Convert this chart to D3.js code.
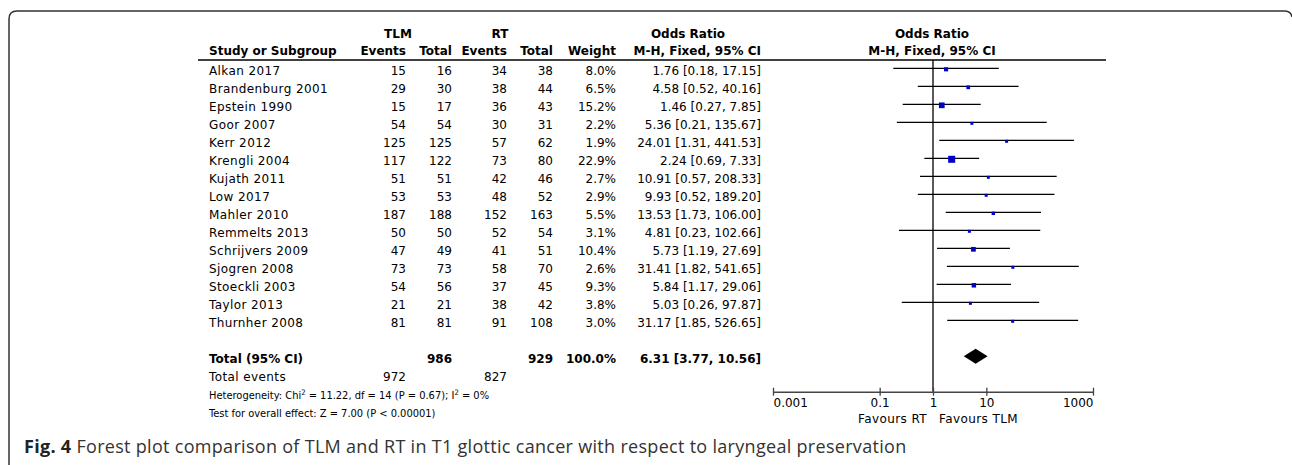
<!DOCTYPE html>
<html>
<head>
<meta charset="utf-8">
<script src="https://cdn.jsdelivr.net/npm/d3@7"></script>
<style>
	body { margin: 0; background: #fff; }
	svg { display: block; font-family: "DejaVu Sans", sans-serif; font-size: 12px; }
	.bold { font-weight: bold; }
	.name { letter-spacing: 0.4px; }
	.narrow { font-family: "Liberation Sans Narrow", "DejaVu Sans Condensed", sans-serif; font-stretch: condensed; font-size: 11px; }
</style>
</head>
<body>
<script>
const studies = [
	"Alkan 2017", "Brandenburg 2001", "Epstein 1990", "Goor 2007", "Kerr 2012",
	"Krengli 2004", "Kujath 2011", "Low 2017", "Mahler 2010", "Remmelts 2013",
	"Schrijvers 2009", "Sjogren 2008", "Stoeckli 2003", "Taylor 2013", "Thurnher 2008"
];
const tlmEvents = [15, 29, 15, 54, 125, 117, 51, 53, 187, 50, 47, 73, 54, 21, 81];
const tlmTotal = [16, 30, 17, 54, 125, 122, 51, 53, 188, 50, 49, 73, 56, 21, 81];
const rtEvents = [34, 38, 36, 30, 57, 73, 42, 48, 152, 52, 41, 58, 37, 38, 91];
const rtTotal = [38, 44, 43, 31, 62, 80, 46, 52, 163, 54, 51, 70, 45, 42, 108];
const weights = [8.0, 6.5, 15.2, 2.2, 1.9, 22.9, 2.7, 2.9, 5.5, 3.1, 10.4, 2.6, 9.3, 3.8, 3.0];
const oddsRatio = [1.76, 4.58, 1.46, 5.36, 24.01, 2.24, 10.91, 9.93, 13.53, 4.81, 5.73, 31.41, 5.84, 5.03, 31.17];
const ciLow = [0.18, 0.52, 0.27, 0.21, 1.31, 0.69, 0.57, 0.52, 1.73, 0.23, 1.19, 1.82, 1.17, 0.26, 1.85];
const ciHigh = [17.15, 40.16, 7.85, 135.67, 441.53, 7.33, 208.33, 189.20, 106.00, 102.66, 27.69, 541.65, 29.06, 97.87, 526.65];

const totalTlm = 986;
const totalRt = 929;
const totalWeight = 100.0;
const totalOr = [6.31, 3.77, 10.56];
const totalEvents = [972, 827];

const axisTicks = [0.001, 0.1, 1, 10, 1000];
const favours = ["Favours RT", "Favours TLM"];

const W = 1292, H = 465;
const fmt2 = d3.format(".2f");
const fmt1 = d3.format(".1f");
const orLabel = (o, l, h) => `${fmt2(o)} [${fmt2(l)}, ${fmt2(h)}]`;

const svg = d3.select("body").append("svg")
	.attr("width", W)
	.attr("height", H);

// frame (rounded box, bottom and right run off the picture)
svg.append("path")
	.attr("d", "M9,470 L9,19 Q9,11 17,11 L1284,11 Q1291,11 1292,17")
	.attr("fill", "none")
	.attr("stroke", "#333")
	.attr("stroke-width", 1.5);

// row index -> line y; text sits a little lower
const row = d3.scaleLinear().domain([0, 1]).range([68.3, 86.3]);
const base = i => row(i) + 6.4;

const x = d3.scaleLog().domain([0.001, 1000]).range([773, 1093]);
const side = d3.scaleSqrt().domain([0, 22.9]).range([0, 7]);
const sq = w => Math.max(3, side(w));
const axisY = 391.7;

const col = {
	name: 209,
	tlmEv: 406,
	tlmTot: 452,
	rtEv: 507,
	rtTot: 553,
	weight: 616,
	or: 761
};

// headers
const head = svg.append("g").attr("class", "bold");
const headTxt = (tx, ty, anchor, s) =>
	head.append("text")
		.attr("x", tx)
		.attr("y", ty)
		.attr("text-anchor", anchor)
		.text(s);

headTxt(398, 37.7, "middle", "TLM");
headTxt(500, 37.7, "middle", "RT");
headTxt(688, 37.7, "middle", "Odds Ratio");
headTxt(932, 37.7, "middle", "Odds Ratio");
headTxt(col.name, 55, "start", "Study or Subgroup");
headTxt(col.tlmEv, 55, "end", "Events");
headTxt(col.tlmTot, 55, "end", "Total");
headTxt(col.rtEv, 55, "end", "Events");
headTxt(col.rtTot, 55, "end", "Total");
headTxt(col.weight, 55, "end", "Weight");
headTxt(col.or, 55, "end", "M-H, Fixed, 95% CI");
headTxt(932, 55, "middle", "M-H, Fixed, 95% CI");

svg.append("line")
	.attr("x1", 198)
	.attr("x2", 1106)
	.attr("y1", 60)
	.attr("y2", 60)
	.attr("stroke", "#000")
	.attr("stroke-width", 1.4);

// table rows
const rows = svg.selectAll(".row")
	.data(studies)
	.enter()
	.append("g")
	.attr("class", "row")
	.attr("transform", (d, i) => `translate(0, ${base(i)})`);

rows.append("text")
	.attr("class", "name")
	.attr("x", col.name)
	.text(d => d);

const cells = [
	[col.tlmEv, (d, i) => tlmEvents[i]],
	[col.tlmTot, (d, i) => tlmTotal[i]],
	[col.rtEv, (d, i) => rtEvents[i]],
	[col.rtTot, (d, i) => rtTotal[i]],
	[col.weight, (d, i) => fmt1(weights[i]) + "%"],
	[col.or, (d, i) => orLabel(oddsRatio[i], ciLow[i], ciHigh[i])]
];

cells.forEach(([cx, fn]) => {
	rows.append("text")
		.attr("x", cx)
		.attr("text-anchor", "end")
		.text(fn);
});

// total row
const totRow = svg.append("g")
	.attr("class", "bold")
	.attr("transform", `translate(0, ${base(16)})`);
totRow.append("text").attr("x", col.name).text("Total (95% CI)");
totRow.append("text").attr("x", col.tlmTot).attr("text-anchor", "end").text(totalTlm);
totRow.append("text").attr("x", col.rtTot).attr("text-anchor", "end").text(totalRt);
totRow.append("text").attr("x", col.weight).attr("text-anchor", "end").text(fmt1(totalWeight) + "%");
totRow.append("text").attr("x", col.or).attr("text-anchor", "end").text(orLabel(...totalOr));

const evRow = svg.append("g").attr("transform", `translate(0, ${base(17)})`);
evRow.append("text").attr("class", "name").attr("x", col.name).text("Total events");
evRow.append("text").attr("x", col.tlmEv).attr("text-anchor", "end").text(totalEvents[0]);
evRow.append("text").attr("x", col.rtEv).attr("text-anchor", "end").text(totalEvents[1]);

const het = svg.append("text")
	.attr("class", "narrow")
	.attr("x", col.name)
	.attr("y", base(18));
het.append("tspan").text("Heterogeneity: Chi");
het.append("tspan").attr("dy", -4).attr("font-size", 7.5).text("2");
het.append("tspan").attr("dy", 4).text(" = 11.22, df = 14 (P = 0.67); I");
het.append("tspan").attr("dy", -4).attr("font-size", 7.5).text("2");
het.append("tspan").attr("dy", 4).text(" = 0%");

svg.append("text")
	.attr("class", "narrow")
	.attr("x", col.name)
	.attr("y", base(19))
	.text("Test for overall effect: Z = 7.00 (P < 0.00001)");

// forest plot
const plot = svg.append("g");

plot.append("line")
	.attr("x1", x(1))
	.attr("x2", x(1))
	.attr("y1", 60)
	.attr("y2", axisY)
	.attr("stroke", "#000")
	.attr("stroke-width", 1.3);

plot.selectAll(".ci")
	.data(studies)
	.enter()
	.append("line")
	.attr("class", "ci")
	.attr("x1", (d, i) => x(ciLow[i]))
	.attr("x2", (d, i) => x(ciHigh[i]))
	.attr("y1", (d, i) => row(i))
	.attr("y2", (d, i) => row(i))
	.attr("stroke", "#000")
	.attr("stroke-width", 1.2);

plot.selectAll(".sq")
	.data(studies)
	.enter()
	.append("rect")
	.attr("class", "sq")
	.attr("width", (d, i) => sq(weights[i]))
	.attr("height", (d, i) => sq(weights[i]))
	.attr("x", (d, i) => x(oddsRatio[i]) - sq(weights[i]) / 2)
	.attr("y", (d, i) => row(i) + 1 - sq(weights[i]) / 2)
	.attr("fill", "#0000c8");

const dy = row(16);
plot.append("path")
	.attr("d", `M${x(totalOr[1])},${dy} L${x(totalOr[0])},${dy - 7.5} L${x(totalOr[2])},${dy} L${x(totalOr[0])},${dy + 7.5} Z`)
	.attr("fill", "#000");

const axis = plot.append("g")
	.attr("transform", `translate(0, ${axisY})`)
	.call(d3.axisBottom(x).tickValues(axisTicks).tickSizeOuter(0).tickFormat(d => d3.format("~g")(d)));

axis.select(".domain").attr("stroke", "#444").attr("stroke-width", 1.5);
axis.selectAll(".tick line")
	.attr("y1", -4)
	.attr("y2", 4)
	.attr("stroke", "#444")
	.attr("stroke-width", 1.3);
axis.selectAll(".tick text")
	.attr("y", 15.7)
	.attr("dy", null)
	.attr("font-family", "DejaVu Sans")
	.attr("font-size", 12)
	.attr("fill", "#000")
	.attr("text-anchor", (d, i) => i === 0 ? "start" : i === axisTicks.length - 1 ? "end" : "middle");

plot.append("text")
	.attr("class", "name")
	.attr("x", x(1) - 6)
	.attr("y", 423)
	.attr("text-anchor", "end")
	.text(favours[0]);
plot.append("text")
	.attr("class", "name")
	.attr("x", x(1) + 6)
	.attr("y", 423)
	.text(favours[1]);

// caption
const cap = svg.append("text")
	.attr("x", 24)
	.attr("y", 453)
	.attr("font-family", "Open Sans")
	.attr("font-size", 18)
	.attr("letter-spacing", 0.3)
	.attr("fill", "#333");
cap.append("tspan").attr("font-weight", "bold").attr("fill", "#222").text("Fig. 4");
cap.append("tspan").text(" Forest plot comparison of TLM and RT in T1 glottic cancer with respect to laryngeal preservation");
</script>
</body>
</html>
